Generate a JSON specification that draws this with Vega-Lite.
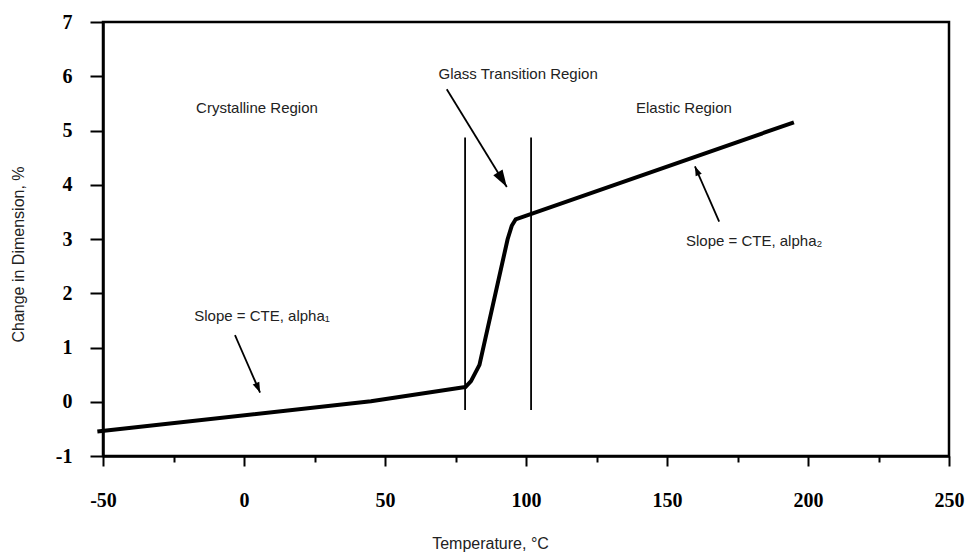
{
  "$schema": "https://vega.github.io/schema/vega-lite/v6.json",
  "autosize": {"type": "none"},
  "width": 846,
  "height": 434,
  "padding": {"left": 103, "top": 22, "right": 23, "bottom": 99},
  "background": "white",
  "config": {
    "view": {"stroke": "black", "strokeWidth": 2.5},
    "axis": {
      "grid": false,
      "domainColor": "black",
      "domainWidth": 2.5,
      "tickColor": "black",
      "tickWidth": 2,
      "labelFont": "Liberation Serif",
      "labelFontWeight": "bold",
      "labelFontSize": 20,
      "labelColor": "black",
      "titleFont": "Liberation Sans",
      "titleFontWeight": "normal",
      "titleFontSize": 16,
      "titleColor": "#222"
    }
  },
  "datasets": {
    "curve": [
      {"temp": -52, "change": -0.55},
      {"temp": 45, "change": 0.01},
      {"temp": 78.5, "change": 0.27},
      {"temp": 80.5, "change": 0.38},
      {"temp": 83.5, "change": 0.68},
      {"temp": 93.5, "change": 3.0},
      {"temp": 95, "change": 3.25},
      {"temp": 96.3, "change": 3.36},
      {"temp": 195, "change": 5.15}
    ],
    "dividers": [
      {"temp": 78.4, "low": -0.15, "high": 4.87},
      {"temp": 101.8, "low": -0.15, "high": 4.87}
    ],
    "arrows": [
      {"id": "glass", "tailT": 71.9, "tailC": 5.76, "tipT": 93.2, "tipC": 3.96},
      {"id": "alpha1", "tailT": -3.2, "tailC": 1.23, "tipT": 5.7, "tipC": 0.17},
      {"id": "alpha2", "tailT": 168.5, "tailC": 3.32, "tipT": 159.9, "tipC": 4.34}
    ],
    "labels": [
      {"temp": 4.6, "change": 5.41, "text": "Crystalline Region"},
      {"temp": 97.2, "change": 6.04, "text": "Glass Transition Region"},
      {"temp": 156, "change": 5.41, "text": "Elastic Region"},
      {"temp": 6.4, "change": 1.58, "text": "Slope = CTE, alpha₁"},
      {"temp": 180.9, "change": 2.96, "text": "Slope = CTE, alpha₂"}
    ]
  },
  "layer": [
    {
      "data": {"name": "curve"},
      "mark": {"type": "line", "color": "black", "strokeWidth": 4, "strokeJoin": "round"},
      "encoding": {
        "x": {
          "field": "temp", "type": "quantitative",
          "scale": {"domain": [-50, 250], "nice": false, "zero": false},
          "axis": {
            "values": [-50, -25, 0, 25, 50, 75, 100, 125, 150, 175, 200, 225, 250],
            "labelExpr": "datum.value % 50 === 0 ? '' + datum.value : ''",
            "tickSize": {"condition": {"test": "datum.value % 50 === 0", "value": 10}, "value": 6},
            "labelPadding": 24,
            "labelFlush": false,
            "labelOverlap": false,
            "title": "Temperature, °C",
            "titleX": 387,
            "titleY": 87,
            "titleAnchor": null,
            "titleAlign": "center",
            "titleBaseline": "middle"
          }
        },
        "y": {
          "field": "change", "type": "quantitative",
          "scale": {"domain": [-1, 7], "nice": false, "zero": false},
          "axis": {
            "values": [-1, -0.5, 0, 0.5, 1, 1.5, 2, 2.5, 3, 3.5, 4, 4.5, 5, 5.5, 6, 6.5, 7],
            "labelExpr": "datum.value % 1 === 0 ? '' + datum.value : ''",
            "tickSize": {"condition": {"test": "datum.value % 1 === 0", "value": 13}, "value": 8},
            "labelPadding": 18,
            "labelFlush": false,
            "labelOverlap": false,
            "labelBaseline": "middle",
            "title": "Change in Dimension, %",
            "titleX": -85,
            "titleY": 232,
            "titleAngle": 270,
            "titleAlign": "center",
            "titleBaseline": "middle"
          }
        }
      }
    },
    {
      "data": {"name": "dividers"},
      "mark": {"type": "rule", "color": "black", "strokeWidth": 1.8},
      "encoding": {
        "x": {"field": "temp", "type": "quantitative"},
        "y": {"field": "low", "type": "quantitative"},
        "y2": {"field": "high"}
      }
    },
    {
      "data": {"name": "arrows"},
      "mark": {"type": "rule", "color": "black", "strokeWidth": 1.8},
      "encoding": {
        "x": {"field": "tailT", "type": "quantitative"},
        "y": {"field": "tailC", "type": "quantitative"},
        "x2": {"field": "tipT"},
        "y2": {"field": "tipC"}
      }
    },
    {
      "data": {"name": "arrows"},
      "transform": [{"filter": "datum.id === 'glass'"}],
      "mark": {"type": "point", "shape": "M0,0 L-0.32,1 L0.32,1 Z", "filled": true, "color": "black", "opacity": 1, "size": 1156, "angle": 148.4},
      "encoding": {
        "x": {"field": "tipT", "type": "quantitative"},
        "y": {"field": "tipC", "type": "quantitative"}
      }
    },
    {
      "data": {"name": "arrows"},
      "transform": [{"filter": "datum.id === 'alpha1'"}],
      "mark": {"type": "point", "shape": "M0,0 L-0.35,1 L0.35,1 Z", "filled": true, "color": "black", "opacity": 1, "size": 420, "angle": 156.6},
      "encoding": {
        "x": {"field": "tipT", "type": "quantitative"},
        "y": {"field": "tipC", "type": "quantitative"}
      }
    },
    {
      "data": {"name": "arrows"},
      "transform": [{"filter": "datum.id === 'alpha2'"}],
      "mark": {"type": "point", "shape": "M0,0 L-0.35,1 L0.35,1 Z", "filled": true, "color": "black", "opacity": 1, "size": 360, "angle": 336.4},
      "encoding": {
        "x": {"field": "tipT", "type": "quantitative"},
        "y": {"field": "tipC", "type": "quantitative"}
      }
    },
    {
      "data": {"name": "labels"},
      "mark": {"type": "text", "font": "Liberation Sans", "fontSize": 15, "color": "#222", "align": "center", "baseline": "middle"},
      "encoding": {
        "x": {"field": "temp", "type": "quantitative"},
        "y": {"field": "change", "type": "quantitative"},
        "text": {"field": "text"}
      }
    }
  ]
}
